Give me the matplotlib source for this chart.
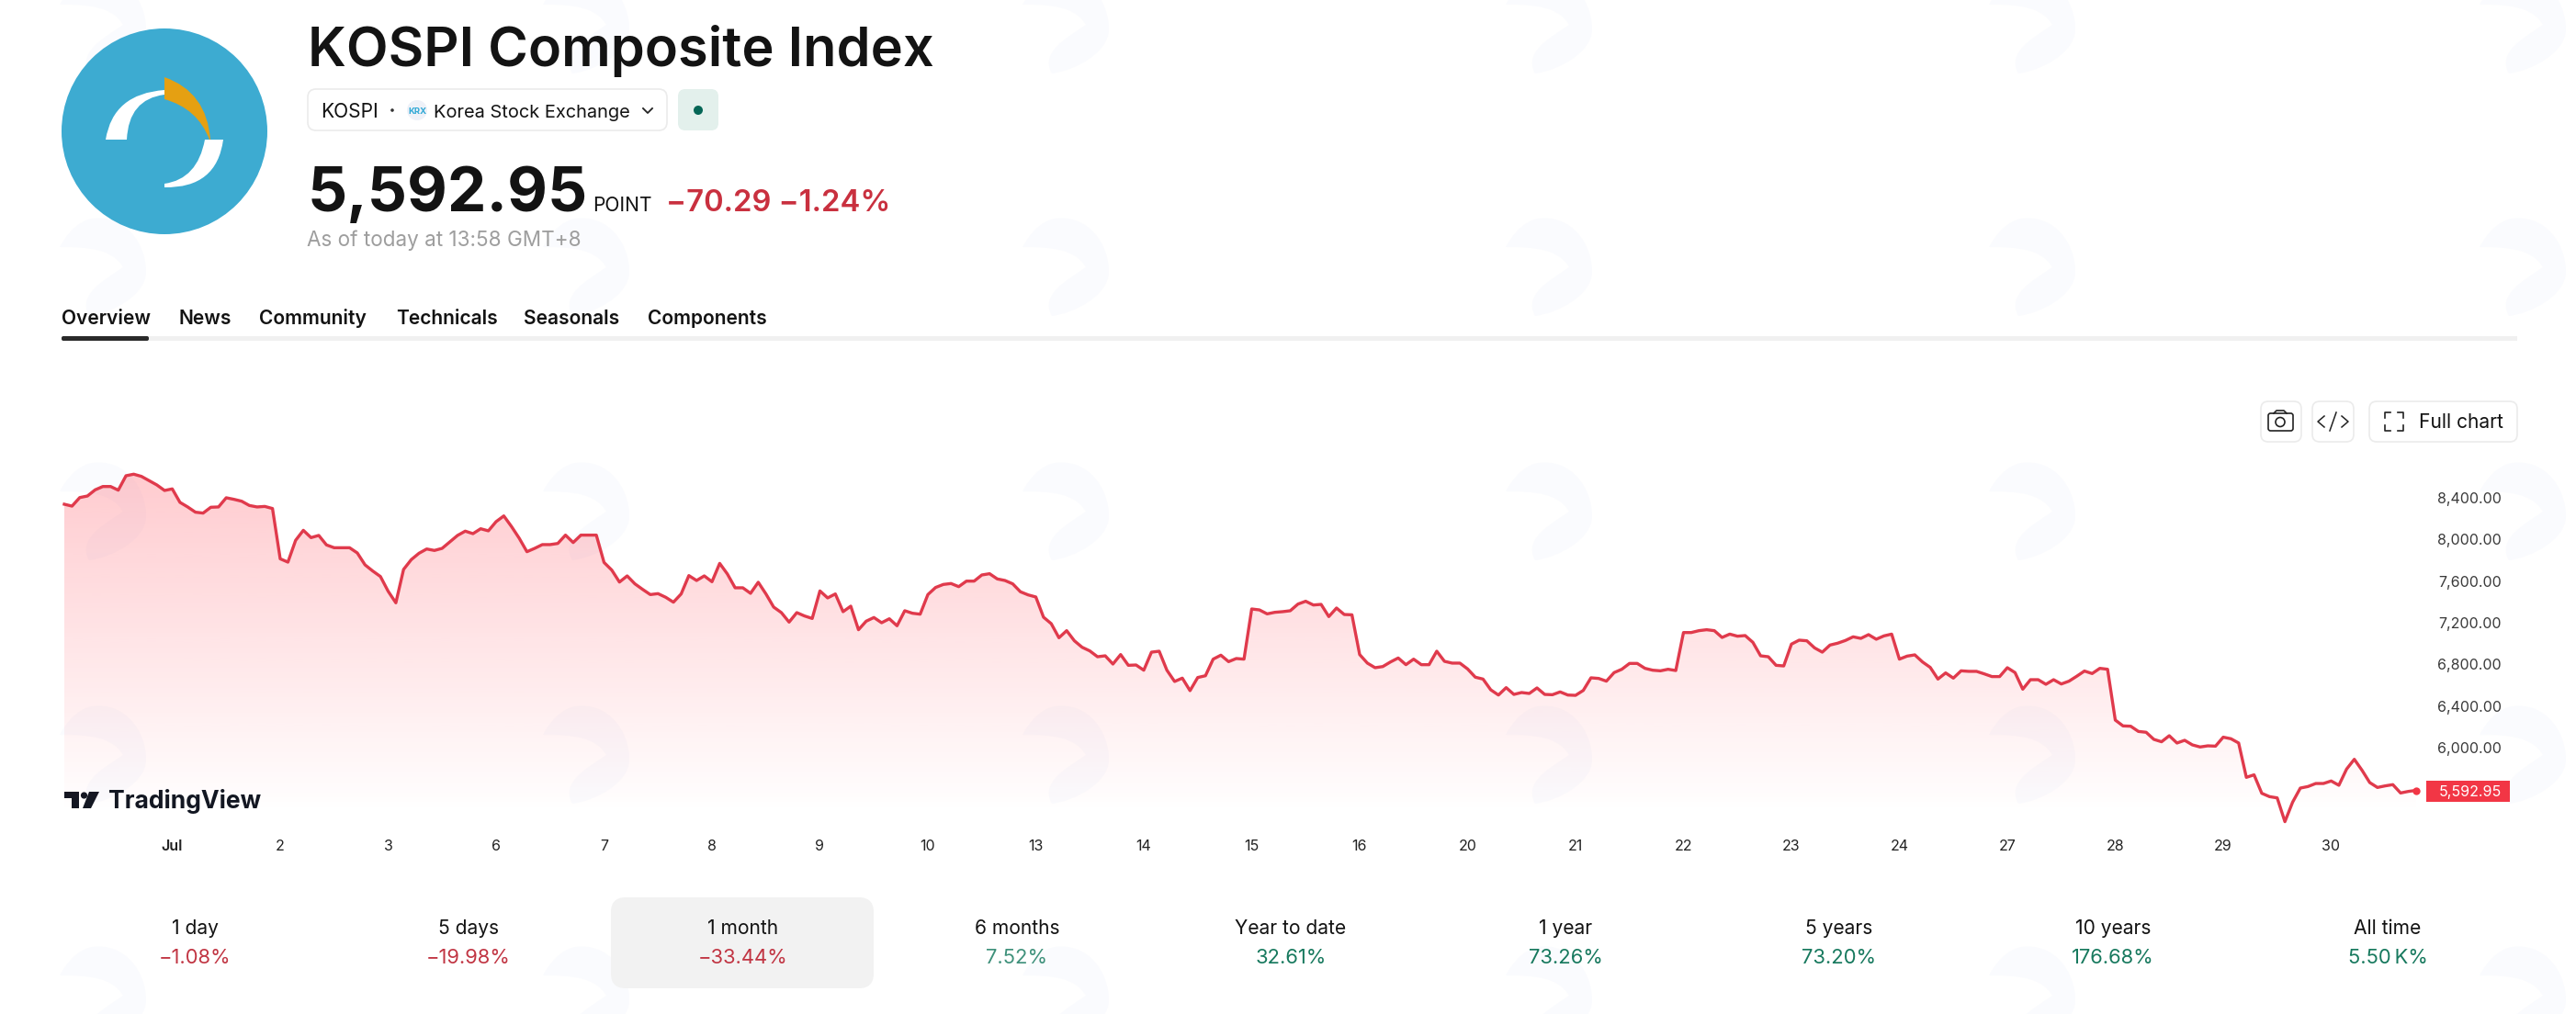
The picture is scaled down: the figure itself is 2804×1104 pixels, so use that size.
import numpy as np
import matplotlib
matplotlib.use("Agg")
import matplotlib.pyplot as plt
from matplotlib.patches import Circle, FancyBboxPatch, PathPatch, Rectangle, Polygon
from matplotlib.path import Path

plt.rcParams['font.family'] = ['Inter', 'DejaVu Sans']

# ---- data: half-hour index values per trading session
jun30 = [8336,8318,8400,8415,8474,8506,8506,8471,8609,8624,8603,8562,8521,8468]
jul01 = [8483,8354,8310,8260,8251,8307,8310,8398,8383,8365,8324,8310,8315,8295]
jul02 = [7813,7781,7990,8086,8016,8037,7946,7919,7919,7919,7869,7755,7696,7643]
jul03 = [7502,7391,7711,7805,7866,7907,7893,7913,7975,8037,8078,8054,8101,8081]
jul06 = [8169,8224,8122,8010,7881,7913,7949,7949,7960,8040,7969,8040,8040,8040]
jul07 = [7778,7705,7590,7649,7573,7520,7470,7479,7444,7397,7476,7652,7605,7649]
jul08 = [7593,7769,7667,7535,7535,7482,7588,7476,7350,7297,7206,7297,7265,7241]
jul09 = [7505,7438,7476,7306,7359,7133,7215,7250,7200,7238,7171,7315,7291,7282]
jul10 = [7470,7538,7567,7576,7546,7599,7599,7658,7670,7620,7605,7573,7497,7467]
jul13 = [7447,7253,7191,7056,7124,7027,6965,6930,6874,6883,6804,6895,6792,6795]
jul14 = [6745,6918,6927,6745,6637,6669,6549,6675,6692,6851,6889,6827,6857,6851]
jul15 = [7332,7323,7285,7300,7306,7315,7379,7406,7370,7376,7259,7341,7279,7276]
jul16 = [6895,6813,6769,6780,6824,6862,6798,6851,6798,6798,6927,6830,6813,6813]
jul20 = [6757,6678,6660,6557,6507,6578,6513,6531,6522,6575,6513,6510,6537,6507]
jul21 = [6504,6551,6672,6666,6640,6722,6754,6810,6810,6763,6745,6739,6754,6742]
jul22 = [7106,7106,7124,7133,7124,7059,7091,7071,7077,7012,6883,6874,6792,6786]
jul23 = [6995,7033,7027,6959,6918,6986,7004,7030,7065,7050,7086,7042,7074,7091]
jul24 = [6851,6880,6892,6824,6772,6660,6719,6669,6739,6734,6734,6710,6684,6684]
jul27 = [6769,6722,6563,6654,6654,6610,6654,6613,6640,6687,6737,6713,6763,6754]
jul28 = [6267,6211,6208,6158,6150,6082,6059,6117,6047,6073,6029,6009,6020,6017]
jul29 = [6103,6088,6047,5718,5742,5565,5533,5521,5293,5480,5615,5630,5659,5659]
jul30 = [5683,5642,5797,5891,5786,5668,5621,5636,5648,5568,5583,5592.95]
sessions = [jun30,jul01,jul02,jul03,jul06,jul07,jul08,jul09,jul10,jul13,jul14,
            jul15,jul16,jul20,jul21,jul22,jul23,jul24,jul27,jul28,jul29,jul30]
day_labels = ["", "Jul","2","3","6","7","8","9","10","13","14","15","16","20",
              "21","22","23","24","27","28","29","30"]
price_ticks = [6000,6400,6800,7200,7600,8000,8400]
last_price = 5592.95

period_names = ["1 day","5 days","1 month","6 months","Year to date","1 year","5 years","10 years","All time"]
period_changes = ["\u22121.08%","\u221219.98%","\u221233.44%","7.52%","32.61%","73.26%","73.20%","176.68%","5.50\u202fK%"]
tabs = ["Overview","News","Community","Technicals","Seasonals","Components"]

series = np.concatenate(sessions)
idx = np.arange(len(series))

W, H = 2804, 1104
RED = "#E03A4C"
fig = plt.figure(figsize=(W/100, H/100), dpi=100, facecolor="white")

def px(p):  # font pixels to points
    return p*0.72

# ---- page layer in pixel coordinates
ui = fig.add_axes([0,0,1,1], zorder=0)
ui.set_xlim(0,W); ui.set_ylim(H,0); ui.axis("off")

def txt(x,y,s,size,color="#131313",weight="normal",ha="left",**kw):
    return ui.text(x,y,s,fontsize=px(size),color=color,fontweight=weight,ha=ha,va="baseline",**kw)

def rrect(x0,y0,x1,y1,r,fc="white",ec="none",lw=1.0,z=2):
    ui.add_patch(FancyBboxPatch((x0+r,y0+r),x1-x0-2*r,y1-y0-2*r,boxstyle=f"round,pad={r},rounding_size={r}",
                                fc=fc,ec=ec,lw=lw,zorder=z))

# faint watermarks
def mark(cx,cy):
    verts=[(-12,-53),(25,-58),(47,-25),(47,5),(47,30),(10,50),(-15,53),(-28,30),(0,15),(22,0),
           (10,-20),(-15,-22),(-47,-22),(-40,-35),(-28,-50),(-12,-53)]
    codes=[Path.MOVETO]+[Path.CURVE4]*15
    p=Path([(cx+a,cy+b) for a,b in verts],codes)
    ui.add_patch(PathPatch(p,fc="#FAFBFE",ec="none",zorder=1))
for cx in (112,638,1160,1686,2212,2746):
    for cy in (27,291,557,822,1084):
        mark(cx,cy)

# logo
ui.add_patch(Circle((179,143),112,fc="#3DABD1",ec="none",zorder=2))
def bez(pts,fc):
    codes=[Path.MOVETO,Path.CURVE3,Path.CURVE3,Path.LINETO,Path.CURVE3,Path.CURVE3,Path.CLOSEPOLY]
    ui.add_patch(PathPatch(Path(pts+[pts[0]],codes),fc=fc,ec="none",zorder=3))
bez([(115,152),(123,102),(179,98),(179,103),(140,108),(138,152)],"white")
bez([(229,152),(225,100),(179,84),(179,108),(215,118),(228,152)],"#E5A012")
bez([(243,152),(236,205),(179,204),(179,200),(215,195),(223,152)],"white")

# title block
txt(335,72,"KOSPI Composite Index",59.5,weight="semibold")
rrect(335,97,726,142,9,ec="#EBEBEB",lw=1.2)
txt(349,128,"KOSPI",21)
ui.add_patch(Circle((427,120),1.8,fc="#333333",ec="none",zorder=3))
ui.add_patch(Circle((454,120),11,fc="#EEF1F8",ec="none",zorder=3))
txt(454,123.5,"KRX",9.5,color="#2FA8D5",ha="center",weight="bold",zorder=4)
txt(472,128,"Korea Stock Exchange",20)
ui.plot([700,705,710],[118,123,118],color="#222222",lw=1.3,zorder=3)
rrect(738,97,782,142,8,fc="#E3F0EC")
ui.add_patch(Circle((760,120),5,fc="#056656",ec="none",zorder=3))

txt(335,230,"5,592.95",67.5,weight="bold")
txt(645,230,"POINT",21)
txt(725,230,"\u221270.29 \u22121.24%",32.8,color="#C9303F",weight="semibold")
txt(334,268,"As of today at 13:58 GMT+8",22.5,color="#9E9E9E")

tab_x=[67,194,282,431,570,705]
for x,s in zip(tab_x,tabs):
    txt(x,353,s,21,weight="semibold")
ui.add_patch(Rectangle((67,366),2673,4.5,fc="#F0F0F0",ec="none",zorder=2))
rrect(67,366,162,371,2,fc="#2A2A2A",z=3)

# chart buttons
rrect(2461,437,2505,481,8,ec="#EBEBEB",lw=1.2)
rrect(2517,437,2562,481,8,ec="#EBEBEB",lw=1.2)
rrect(2579,437,2740,481,8,ec="#EBEBEB",lw=1.2)
rrect(2469,450,2496,469,2.5,ec="#222222",lw=1.2,z=3)
ui.add_patch(Circle((2482,459.5),5,fc="none",ec="#222222",lw=1.2,zorder=3))
ui.plot([2475,2478,2486,2489],[450,447,447,450],color="#222222",lw=1.2,zorder=3)
ui.plot([2530,2523,2530],[453,459,465],color="#222222",lw=1.1,zorder=3)
ui.plot([2549,2556,2549],[453,459,465],color="#222222",lw=1.1,zorder=3)
ui.plot([2543,2536],[449,469],color="#222222",lw=1.1,zorder=3)
for sx,sy in ((1,1),(-1,1),(1,-1),(-1,-1)):
    cx,cy=2606-sx*10,459-sy*10
    ui.plot([cx+sx*6,cx,cx],[cy,cy,cy+sy*6],color="#222222",lw=1.2,zorder=3)
txt(2633,466,"Full chart",21)

# TradingView mark
ui.add_patch(Polygon([(70,862),(86,862),(86,880),(78,880),(78,869),(70,869)],fc="#131722",ec="none",zorder=6))
ui.add_patch(Circle((91.5,866),3.6,fc="#131722",ec="none",zorder=6))
ui.add_patch(Polygon([(97,862),(108,862),(99,880),(90,880)],fc="#131722",ec="none",zorder=6))

# period row
rrect(665,977,951,1076,16,fc="#F2F2F2")
period_x=[212,510,809,1107,1405,1704,2002,2300,2599]
period_col=["#C13543","#C13543","#C13543","#3F917B","#17795E","#17795E","#17795E","#17795E","#17795E"]
for x,n,c,col in zip(period_x,period_names,period_changes,period_col):
    txt(x,1017,n,21,ha="center")
    txt(x,1049,c,22,color=col,ha="center")

# ---- chart layer
L,R,T,B = 70,2640,500,905
STEP = 117.5/14
def val(py):  # scale calibration between pixel rows and index points
    return 6000+(814.3-py)*400/45.43
ax = fig.add_axes([L/W,1-B/H,(R-L)/W,(B-T)/H],zorder=5)
ax.patch.set_alpha(0)
ax.set_xlim(0,(R-L)/STEP)
ax.set_ylim(val(B),val(T))
for s in ax.spines.values():
    s.set_visible(False)

grad = np.zeros((256,1,4))
grad[...,0]=1.0; grad[...,1]=60/255; grad[...,2]=75/255
grad[...,3]=np.linspace(0.27,0,256)[:,None]
im = ax.imshow(grad,extent=(0,idx[-1],val(885),val(510)),aspect="auto",origin="upper",zorder=1,interpolation="bilinear")
poly = ax.fill_between(idx,series,val(B),color="none",lw=0)
im.set_clip_path(poly.get_paths()[0],transform=ax.transData)
ax.set_xlim(0,(R-L)/STEP); ax.set_ylim(val(B),val(T))
ax.plot(idx,series,color=RED,lw=2.4,zorder=3,solid_joinstyle="round",clip_on=False)
ax.plot([idx[-1]],[last_price],"o",color="#F23645",ms=6,mew=0,zorder=4)

ax.yaxis.tick_right()
ax.set_yticks(price_ticks)
ax.set_yticklabels([f"{v:,.2f}" for v in price_ticks])
ax.tick_params(axis="y",length=0,pad=83*0.72,labelsize=px(16),labelcolor="#3A3A3A")
for t in ax.get_yticklabels():
    t.set_ha("right")
tick_pos=[14*i for i in range(1,len(sessions))]
ax.set_xticks(tick_pos)
ax.set_xticklabels(day_labels[1:])
ax.tick_params(axis="x",length=0,pad=9*0.72,labelsize=px(16),labelcolor="#222222")
ax.get_xticklabels()[0].set_fontweight("semibold")

# last price tag and wordmark drawn above chart
ui.add_patch(Rectangle((2641,850),91,23,fc="#F23645",ec="none",zorder=4))
ax.annotate(f"{last_price:,.2f}",xy=(1,last_price),xycoords=("axes fraction","data"),
            xytext=(83*0.72,0),textcoords="offset points",ha="right",va="center_baseline",
            fontsize=px(16),color="white",zorder=8,annotation_clip=False)
ax.text(118,880,"TradingView",transform=ui.transData,fontsize=px(26.5),fontweight="bold",color="#131722",ha="left",va="baseline",zorder=7)

fig.savefig("out.png",dpi=100,facecolor="white")
